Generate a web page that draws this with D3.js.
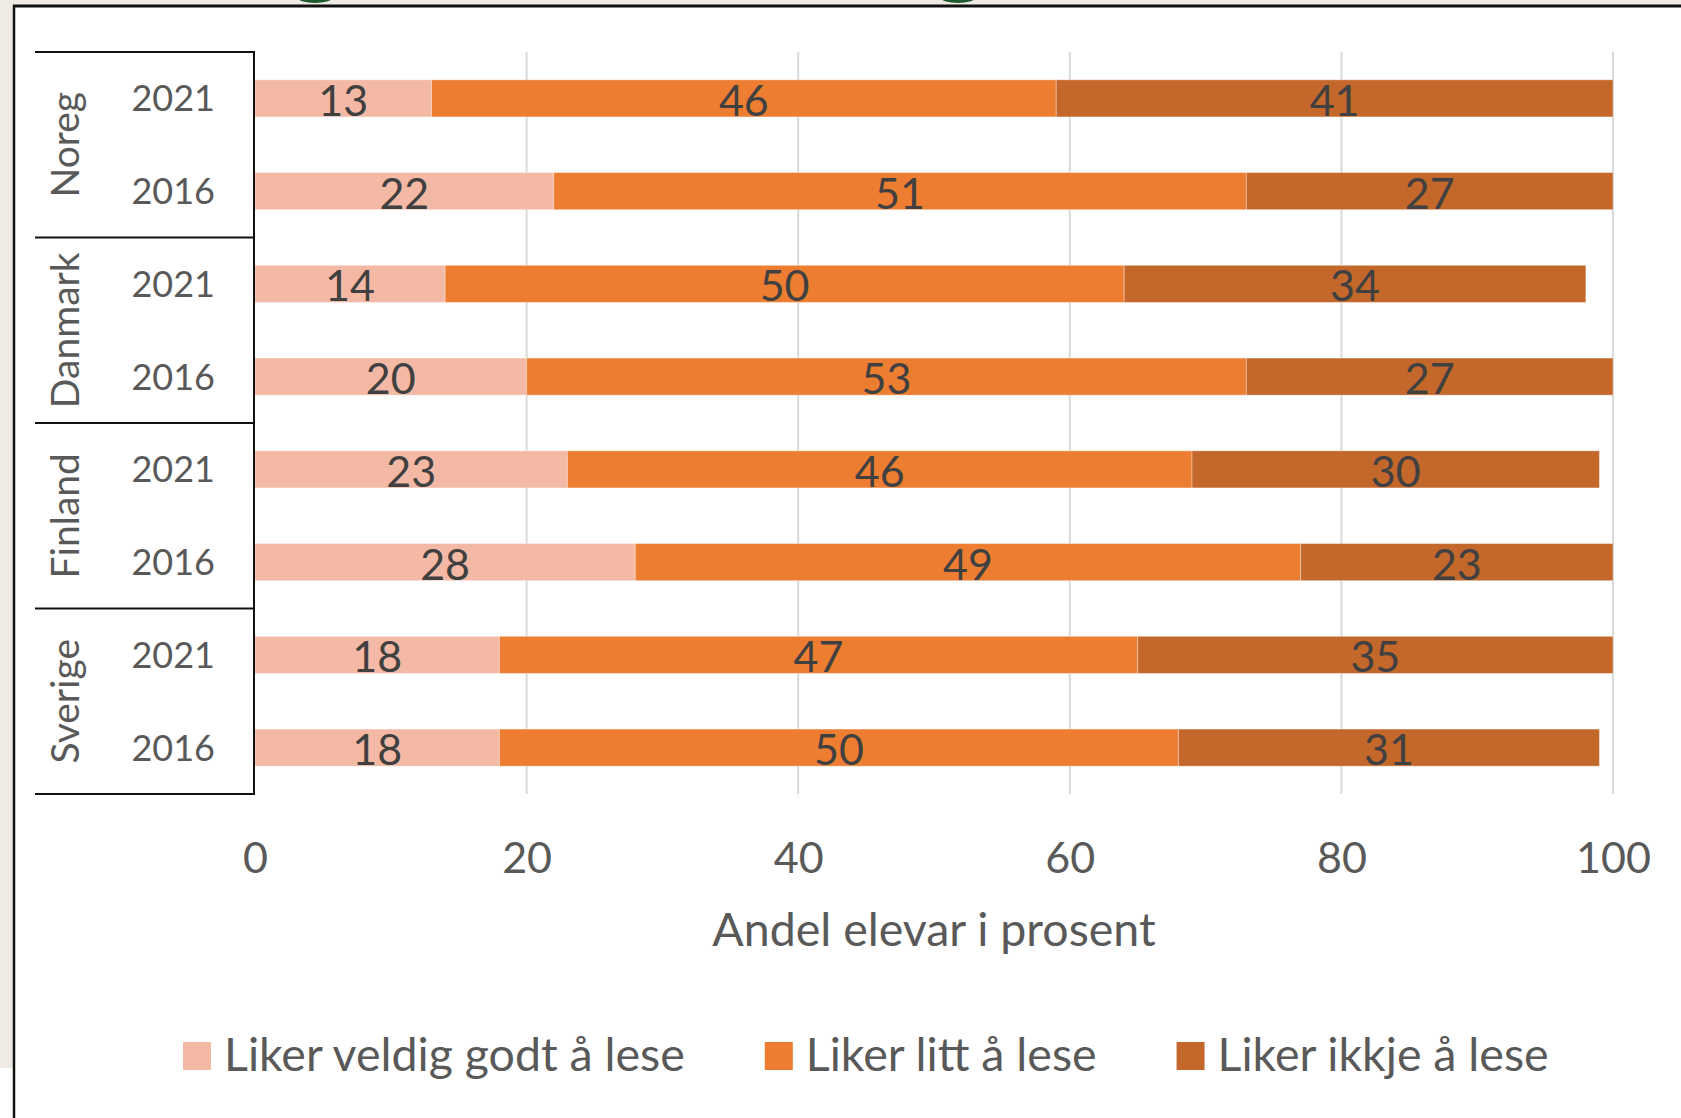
<!DOCTYPE html>
<html lang="nn">
	<head>
		<meta charset="utf-8">
		<title>Liker å lese</title>
		<script type="text/javascript" src="https://cdn.jsdelivr.net/npm/d3@7"></script>
		<style type="text/css">
			body { margin: 0; background: #efebe4; }
			svg text { font-family: Lato, "Open Sans", sans-serif; }
		</style>
	</head>

	<body>
		<script type="text/javascript">

		// chart size
		var w = 1681;
		var h = 1118;

		// data
		var countries = ["Noreg", "Danmark", "Finland", "Sverige"];
		var years = ["2021", "2016"];
		var seriesNames = ["Liker veldig godt å lese", "Liker litt å lese", "Liker ikkje å lese"];
		var veldigGodt = [13, 22, 14, 20, 23, 28, 18, 18];
		var litt = [46, 51, 50, 53, 46, 49, 47, 50];
		var ikkje = [41, 27, 34, 27, 30, 23, 35, 31];
		var xTicks = [0, 20, 40, 60, 80, 100];

		var colors = [
			"#f4b9a5",  // veldig godt
			"#ed7d31",  // litt
			"#c4672b"   // ikkje
		];

		// one row per country + year
		var rows = [];
		countries.forEach(function(c, ci) {
			years.forEach(function(y, yi) {
				var i = ci * years.length + yi;
				rows.push({ key: c + "|" + y, country: c, year: y,
					a: veldigGodt[i], b: litt[i], c: ikkje[i] });
			});
		});

		var stacked = d3.stack().keys(["a", "b", "c"])(rows);

		var svg = d3.select("body")
			.append("svg")
			.attr("width", w)
			.attr("height", h)
			.style("display", "block");

		// background + frame
		svg.append("rect").attr("x", 0).attr("y", 0).attr("width", w).attr("height", h).attr("fill", "#efebe4");
		svg.append("rect").attr("x", 0).attr("y", 1068).attr("width", 14).attr("height", h - 1068).attr("fill", "#fff");
		svg.append("rect").attr("x", 14).attr("y", 6).attr("width", w - 14).attr("height", h - 6).attr("fill", "#fff");
		svg.append("line").attr("x1", 14).attr("x2", 14).attr("y1", 5).attr("y2", h)
			.attr("stroke", "#111").attr("stroke-width", 2.5);

		// bits of the cut-off heading above
		[[315, 0], [958, 0]].forEach(function(p) {
			svg.append("ellipse").attr("cx", p[0]).attr("cy", p[1] - 2).attr("rx", 17).attr("ry", 5)
				.attr("fill", "#1d5a2c");
		});
		svg.append("line").attr("x1", 13).attr("x2", w).attr("y1", 6).attr("y2", 6)
			.attr("stroke", "#111").attr("stroke-width", 3);

		// scales
		var x = d3.scaleLinear()
			.domain([0, 100])
			.range([255, 1613]);

		var y = d3.scaleBand()
			.domain(rows.map(function(d) { return d.key; }))
			.range([52, 794])
			.paddingInner(0.6)
			.paddingOuter(0.3);

		// gridlines
		svg.append("g")
			.selectAll("line")
			.data(xTicks.slice(1))
			.enter()
			.append("line")
			.attr("x1", function(d) { return x(d); })
			.attr("x2", function(d) { return x(d); })
			.attr("y1", 52)
			.attr("y2", 794)
			.attr("stroke", "#d9d9d9")
			.attr("stroke-width", 2);

		// x axis labels
		var xAxis = svg.append("g")
			.attr("transform", "translate(0,842)")
			.call(d3.axisBottom(x).tickValues(xTicks).tickSize(0).tickPadding(0));
		xAxis.select(".domain").remove();
		xAxis.selectAll("text")
			.attr("dy", "0.71em")
			.style("font-size", "43px")
			.attr("fill", "#595959");

		// bars
		svg.append("g")
			.selectAll("g")
			.data(stacked)
			.enter()
			.append("g")
			.attr("fill", function(d, i) { return colors[i]; })
			.selectAll("rect")
			.data(function(d) { return d; })
			.enter()
			.append("rect")
			.attr("x", function(d) { return x(d[0]); })
			.attr("y", function(d) { return y(d.data.key); })
			.attr("width", function(d) { return x(d[1]) - x(d[0]); })
			.attr("height", y.bandwidth())
			.attr("stroke", "#fff")
			.attr("stroke-opacity", 0.35)
			.attr("stroke-width", 1);

		// value labels
		svg.append("g")
			.selectAll("g")
			.data(stacked)
			.enter()
			.append("g")
			.selectAll("text")
			.data(function(d) { return d; })
			.enter()
			.append("text")
			.attr("x", function(d) { return x((d[0] + d[1]) / 2); })
			.attr("y", function(d) { return y(d.data.key) + y.bandwidth() / 2 + 2; })
			.attr("dy", "0.36em")
			.attr("text-anchor", "middle")
			.style("font-size", "43px")
			.attr("fill", "#404040")
			.text(function(d) { return d[1] - d[0]; });

		// category box (country / year)
		var step = y.step();
		var boxTop = 52;
		var groupH = step * years.length;
		var box = svg.append("g").attr("stroke", "#111").attr("stroke-width", 2);
		d3.range(countries.length + 1).forEach(function(i) {
			box.append("line")
				.attr("x1", 35).attr("x2", 255)
				.attr("y1", boxTop + i * groupH).attr("y2", boxTop + i * groupH);
		});
		box.append("line")
			.attr("x1", 254).attr("x2", 254)
			.attr("y1", boxTop).attr("y2", 794);

		svg.append("g")
			.selectAll("text")
			.data(rows)
			.enter()
			.append("text")
			.attr("x", 215)
			.attr("y", function(d) { return y(d.key) + y.bandwidth() / 2; })
			.attr("dy", "0.36em")
			.attr("text-anchor", "end")
			.style("font-size", "36px")
			.attr("fill", "#595959")
			.text(function(d) { return d.year; });

		svg.append("g")
			.selectAll("text")
			.data(countries)
			.enter()
			.append("text")
			.attr("transform", function(d, i) {
				return "translate(65," + (boxTop + (i + 0.5) * groupH) + ") rotate(-90)";
			})
			.attr("dy", "0.36em")
			.attr("text-anchor", "middle")
			.style("font-size", "39px")
			.attr("fill", "#595959")
			.text(function(d) { return d; });

		// axis title
		svg.append("text")
			.attr("x", (x(0) + x(100)) / 2)
			.attr("y", 946)
			.attr("text-anchor", "middle")
			.style("font-size", "46.5px")
			.attr("fill", "#595959")
			.text("Andel elevar i prosent");

		// legend
		var legend = svg.append("g").attr("transform", "translate(183,1042)");
		var lx = 0;
		seriesNames.forEach(function(name, i) {
			var item = legend.append("g").attr("transform", "translate(" + lx + ",0)");
			item.append("rect")
				.attr("width", 28)
				.attr("height", 28)
				.attr("fill", colors[i]);
			var t = item.append("text")
				.attr("x", 41)
				.attr("y", 29)
				.style("font-size", "46.5px")
				.attr("fill", "#595959")
				.text(name);
			lx += 41 + t.node().getComputedTextLength() + 80;
		});

        </script>
	</body>
</html>
